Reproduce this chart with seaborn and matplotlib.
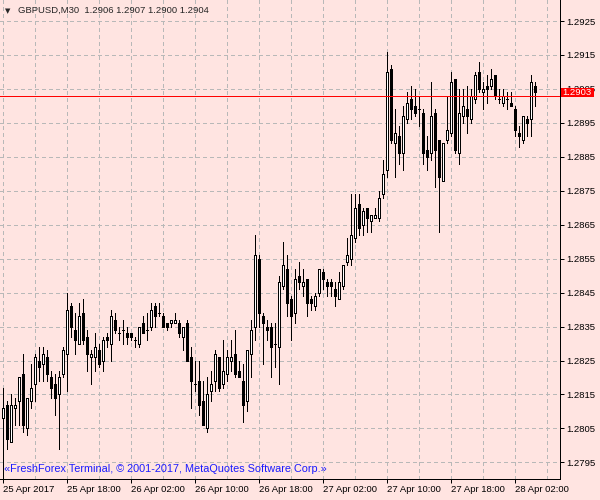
import numpy as np
import pandas as pd
import matplotlib
matplotlib.use("Agg")
import matplotlib.pyplot as plt
import matplotlib.transforms as mtransforms
from matplotlib.patches import Rectangle
import seaborn as sns

# GBPUSD M30 bars (index 0 = 25 Apr 10:00)
open_ = [1.2808, 1.2812, 1.2801, 1.2811, 1.2813, 1.2821, 1.2805, 1.2813, 1.2818, 1.2825,
         1.2824, 1.2826, 1.2820, 1.2818, 1.2815, 1.2821, 1.2827, 1.2841, 1.2834, 1.2830,
         1.2839, 1.2832, 1.2826, 1.2826, 1.2828, 1.2825, 1.2832, 1.2830, 1.2837, 1.2833,
         1.2834, 1.2833, 1.2833, 1.2831, 1.2830, 1.2836, 1.2834, 1.2835, 1.2841, 1.2839,
         1.2838, 1.2836, 1.2836, 1.2836, 1.2836, 1.2832, 1.2836, 1.2826, 1.2818, 1.2819,
         1.2813, 1.2805, 1.2816, 1.2819, 1.2826, 1.2818, 1.2821, 1.2825, 1.2827, 1.2822,
         1.2819, 1.2813, 1.2827, 1.2835, 1.2855, 1.2838, 1.2835, 1.2835, 1.2830, 1.2829,
         1.2847, 1.2852, 1.2843, 1.2839, 1.2850, 1.2847, 1.2849, 1.2843, 1.2841, 1.2845,
         1.2851, 1.2848, 1.2848, 1.2846, 1.2843, 1.2847, 1.2854, 1.2855, 1.2861, 1.2871,
         1.2865, 1.2870, 1.2866, 1.2867, 1.2867, 1.2874, 1.2881, 1.2911, 1.2889, 1.2891,
         1.2886, 1.2896, 1.2902, 1.2900, 1.2899, 1.2898, 1.2887, 1.2886, 1.2898, 1.2890,
         1.2878, 1.2890, 1.2892, 1.2908, 1.2886, 1.2897, 1.2899, 1.2896, 1.2902, 1.2910,
         1.2904, 1.2906, 1.2906, 1.2909, 1.2902, 1.2901, 1.2902, 1.2901, 1.2899, 1.2892,
         1.2890, 1.2896, 1.2896, 1.2906]
high = [1.2817, 1.2813, 1.2815, 1.2814, 1.2820, 1.2827, 1.2814, 1.2824, 1.2827, 1.2829,
        1.2829, 1.2828, 1.2822, 1.2821, 1.2822, 1.2829, 1.2845, 1.2842, 1.2839, 1.2842,
        1.2843, 1.2834, 1.2828, 1.2833, 1.2830, 1.2832, 1.2833, 1.2840, 1.2839, 1.2835,
        1.2837, 1.2835, 1.2833, 1.2832, 1.2835, 1.2838, 1.2839, 1.2842, 1.2842, 1.2842,
        1.2839, 1.2836, 1.2837, 1.2839, 1.2837, 1.2835, 1.2837, 1.2829, 1.2825, 1.2825,
        1.2819, 1.2820, 1.2822, 1.2828, 1.2826, 1.2831, 1.2828, 1.2831, 1.2834, 1.2825,
        1.2824, 1.2828, 1.2837, 1.2862, 1.2856, 1.2839, 1.2837, 1.2836, 1.2836, 1.2850,
        1.2860, 1.2856, 1.2844, 1.2852, 1.2854, 1.2852, 1.2849, 1.2844, 1.2845, 1.2852,
        1.2852, 1.2849, 1.2849, 1.2848, 1.2851, 1.2853, 1.2861, 1.2874, 1.2874, 1.2874,
        1.2870, 1.2870, 1.2868, 1.2870, 1.2875, 1.2884, 1.2916, 1.2912, 1.2899, 1.2894,
        1.2900, 1.2904, 1.2906, 1.2905, 1.2903, 1.2899, 1.2891, 1.2907, 1.2899, 1.2890,
        1.2889, 1.2903, 1.2910, 1.2908, 1.2905, 1.2905, 1.2906, 1.2905, 1.2910, 1.2913,
        1.2907, 1.2909, 1.2911, 1.2909, 1.2905, 1.2905, 1.2904, 1.2904, 1.2900, 1.2894,
        1.2897, 1.2897, 1.2909, 1.2907]
low = [1.2788, 1.2799, 1.2801, 1.2806, 1.2806, 1.2804, 1.2803, 1.2811, 1.2813, 1.2819,
       1.2819, 1.2819, 1.2814, 1.2809, 1.2799, 1.2820, 1.2816, 1.2832, 1.2827, 1.2830,
       1.2830, 1.2822, 1.2818, 1.2822, 1.2823, 1.2822, 1.2829, 1.2825, 1.2833, 1.2831,
       1.2830, 1.2830, 1.2831, 1.2829, 1.2829, 1.2833, 1.2831, 1.2834, 1.2835, 1.2838,
       1.2835, 1.2834, 1.2835, 1.2836, 1.2832, 1.2828, 1.2825, 1.2811, 1.2816, 1.2809,
       1.2806, 1.2804, 1.2813, 1.2816, 1.2816, 1.2817, 1.2819, 1.2822, 1.2820, 1.2820,
       1.2807, 1.2810, 1.2820, 1.2831, 1.2835, 1.2824, 1.2831, 1.2820, 1.2823, 1.2818,
       1.2846, 1.2838, 1.2831, 1.2836, 1.2846, 1.2844, 1.2838, 1.2840, 1.2840, 1.2844,
       1.2846, 1.2844, 1.2844, 1.2841, 1.2843, 1.2846, 1.2853, 1.2853, 1.2860, 1.2862,
       1.2862, 1.2863, 1.2863, 1.2867, 1.2866, 1.2873, 1.2879, 1.2889, 1.2879, 1.2883,
       1.2881, 1.2895, 1.2896, 1.2897, 1.2894, 1.2883, 1.2881, 1.2884, 1.2876, 1.2863,
       1.2878, 1.2889, 1.2891, 1.2886, 1.2883, 1.2895, 1.2892, 1.2895, 1.2901, 1.2904,
       1.2899, 1.2901, 1.2905, 1.2902, 1.2901, 1.2900, 1.2899, 1.2900, 1.2891, 1.2888,
       1.2889, 1.2891, 1.2891, 1.2900]
close = [1.2811, 1.2802, 1.2812, 1.2812, 1.2820, 1.2806, 1.2814, 1.2817, 1.2826, 1.2823,
         1.2827, 1.2821, 1.2817, 1.2814, 1.2820, 1.2828, 1.2840, 1.2835, 1.2831, 1.2838,
         1.2831, 1.2827, 1.2827, 1.2829, 1.2824, 1.2831, 1.2831, 1.2838, 1.2834, 1.2833,
         1.2834, 1.2832, 1.2832, 1.2831, 1.2835, 1.2833, 1.2834, 1.2840, 1.2838, 1.2839,
         1.2835, 1.2835, 1.2837, 1.2837, 1.2833, 1.2835, 1.2825, 1.2819, 1.2818, 1.2812,
         1.2806, 1.2815, 1.2818, 1.2827, 1.2817, 1.2822, 1.2826, 1.2826, 1.2821, 1.2820,
         1.2812, 1.2828, 1.2834, 1.2856, 1.2839, 1.2836, 1.2834, 1.2829, 1.2830, 1.2848,
         1.2853, 1.2842, 1.2838, 1.2849, 1.2848, 1.2848, 1.2842, 1.2842, 1.2844, 1.2852,
         1.2849, 1.2847, 1.2847, 1.2844, 1.2848, 1.2853, 1.2856, 1.2862, 1.2870, 1.2864,
         1.2869, 1.2867, 1.2868, 1.2868, 1.2873, 1.2880, 1.2910, 1.2890, 1.2892, 1.2886,
         1.2897, 1.2901, 1.2899, 1.2898, 1.2899, 1.2886, 1.2885, 1.2897, 1.2887, 1.2879,
         1.2889, 1.2893, 1.2907, 1.2887, 1.2898, 1.2900, 1.2897, 1.2903, 1.2909, 1.2905,
         1.2905, 1.2905, 1.2908, 1.2903, 1.2902, 1.2903, 1.2902, 1.2900, 1.2893, 1.2891,
         1.2897, 1.2895, 1.2907, 1.2904]

bid = 1.2903
price_ticks = [1.2795, 1.2805, 1.2815, 1.2825, 1.2835, 1.2845, 1.2855,
               1.2865, 1.2875, 1.2885, 1.2895, 1.2905, 1.2915, 1.2925]
time_labels = ["25 Apr 2017", "25 Apr 18:00", "26 Apr 02:00", "26 Apr 10:00",
               "26 Apr 18:00", "27 Apr 02:00", "27 Apr 10:00", "27 Apr 18:00",
               "28 Apr 02:00"]
bars_per_label = 16

BG = "#FFE4E1"
GRID = "#b8b8b8"
PX = 0.72  # one pixel in points at 100 dpi

df = pd.DataFrame({"o": open_, "h": high, "l": low, "c": close})
df["x"] = np.arange(len(df))
df["bull"] = df["c"] >= df["o"]

sns.set_style("ticks")
plt.rcParams["font.family"] = ["Liberation Sans", "DejaVu Sans"]

fig = plt.figure(figsize=(6, 5), dpi=100, facecolor=BG)
ax = fig.add_axes([0, 21 / 500, 560 / 600, 479 / 500])
ax.set_facecolor(BG)
ax.set_axisbelow(True)

# wicks, then bodies on top
ax.vlines(df["x"], df["l"], df["h"], color="black", lw=PX, zorder=2,
          antialiased=False)
ax.bar(df["x"], (df["c"] - df["o"]).abs(), bottom=df[["o", "c"]].min(axis=1),
       width=0.5, color=np.where(df["bull"], "white", "black"),
       edgecolor="black", linewidth=PX, zorder=3, antialiased=False)

# bid line
ax.axhline(bid, color="red", lw=PX, zorder=4, antialiased=False)

ax.set_xlim(-0.825, 139.175)
ax.set_ylim(1.27901, 1.29312)

# axes look
sns.despine(ax=ax, left=True, top=True, right=False, bottom=False)
for s in ("right", "bottom"):
    ax.spines[s].set_color("black")
    ax.spines[s].set_linewidth(PX)

ax.yaxis.tick_right()
ax.set_yticks(price_ticks)
ax.set_yticklabels([f"{p:.4f}" for p in price_ticks])
ax.set_xticks(np.arange(len(time_labels)) * bars_per_label)
ax.set_xticklabels(time_labels, ha="left")
ax.set_xticks(np.arange(8, 140, 16), minor=True)
ax.tick_params(axis="both", which="major", direction="out", length=3, width=PX,
               color="black", labelsize=6.8, labelcolor="black", pad=1.5)
ax.tick_params(axis="x", which="minor", length=0)
ax.grid(True, axis="y", color=GRID, ls=(0, (4, 3)), lw=PX, antialiased=False)
ax.grid(True, axis="x", which="both", color=GRID, ls=(0, (4, 3)), lw=PX,
        antialiased=False)

# bid price box on the price scale
trans = mtransforms.blended_transform_factory(ax.transAxes, ax.transData)
ax.add_patch(Rectangle((1.0013, 1.29026), 33 / 560, 0.00028, transform=trans,
                       facecolor="red", edgecolor="none", clip_on=False, zorder=10))
ax.text(1.0013 + 16.5 / 560, 1.29040, f"{bid:.4f}", transform=trans, color="white",
        fontsize=6.8, ha="center", va="center", zorder=11, clip_on=False)

# header and watermark
ax.text(5 / 560, 1 - 11 / 479, "\u25BC", transform=ax.transAxes, fontsize=5,
        family="DejaVu Sans", ha="left", va="center", zorder=6)
ax.text(18 / 560, 1 - 10.5 / 479,
        "GBPUSD,M30  1.2906 1.2907 1.2900 1.2904",
        transform=ax.transAxes, fontsize=6.8, ha="left", va="center", zorder=6)
ax.text(4 / 560, 9.5 / 479,
        "\u00ABFreshForex Terminal, \u00A9 2001-2017, MetaQuotes Software Corp.\u00BB",
        transform=ax.transAxes, fontsize=7.85, color="#1a1aff", ha="left",
        va="center", zorder=6)

fig.savefig("out.png", dpi=100, facecolor=BG)
